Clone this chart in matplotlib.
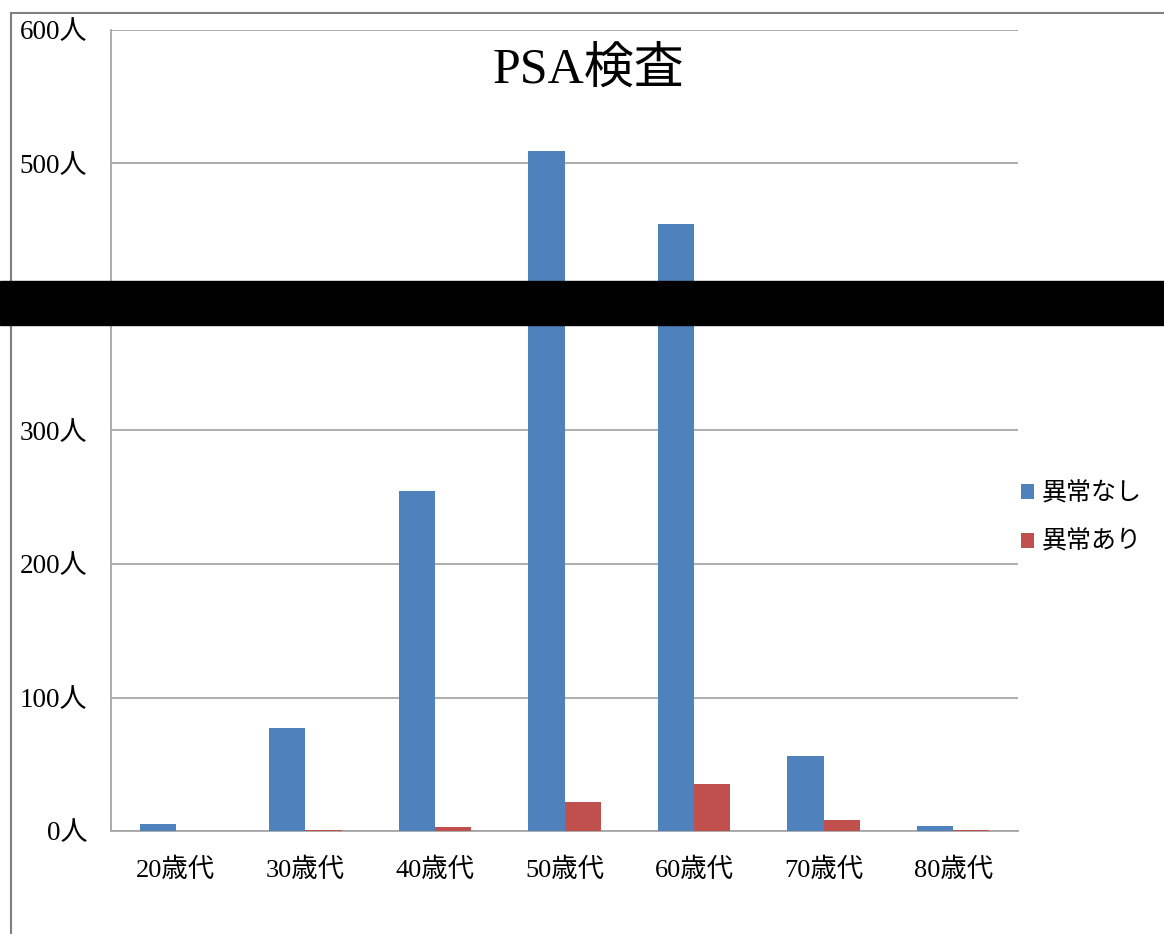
import matplotlib
matplotlib.use("Agg")
import matplotlib.pyplot as plt
import numpy as np
from matplotlib.patches import Rectangle
from matplotlib.lines import Line2D

plt.rcParams['font.family'] = ['Liberation Serif', 'Noto Sans CJK JP', 'DejaVu Sans']

categories = ["20歳代", "30歳代", "40歳代", "50歳代", "60歳代", "70歳代", "80歳代"]
normal = [5, 77, 255, 509, 455, 56, 4]
abnormal = [0, 1, 3, 22, 35, 8, 1]
series_names = ["異常なし", "異常あり"]
yticks = [0, 100, 200, 300, 400, 500, 600]
ytick_labels = [f"{v}人" for v in yticks]
title = "PSA検査"

W, H = 1164, 934
fig = plt.figure(figsize=(W / 100, H / 100), dpi=100)
ax = fig.add_axes([111 / W, 1 - 831 / H, (1018 - 111) / W, (831 - 30) / H])

x = np.arange(len(categories))
bw = 0.28
b1 = ax.bar(x - bw / 2, normal, bw, color="#4F81BD", label=series_names[0], zorder=3)
b2 = ax.bar(x + bw / 2, abnormal, bw, color="#C0504D", label=series_names[1], zorder=3)

ax.set_xlim(-0.5, len(categories) - 0.5)
ax.set_ylim(0, 600)
ax.set_yticks(yticks)
ax.set_yticklabels(ytick_labels, fontsize=19.5)
for lbl in ax.get_yticklabels():
    lbl.set_verticalalignment('center_baseline')
ax.set_xticks(x)
ax.set_xticklabels(categories, fontsize=19)
ax.tick_params(axis='y', length=0, pad=17)
ax.tick_params(axis='x', length=0, pad=19)
ax.grid(axis='y', color="#A6A6A6", linewidth=1.3, zorder=0)
for s in ["top", "right"]:
    ax.spines[s].set_visible(False)
ax.spines["left"].set_color("#A6A6A6")
ax.spines["bottom"].set_color("#A6A6A6")
ax.spines["left"].set_linewidth(1.3)
ax.spines["bottom"].set_linewidth(1.3)

fig.text(588 / W, 1 - 70 / H, title, fontsize=36, ha='center', va='center')

leg = fig.legend(handles=[b1, b2], loc='center left', bbox_to_anchor=(998 / W, 1 - 518 / H),
                 frameon=False, fontsize=18, handlelength=0.55, handleheight=0.55,
                 handletextpad=0.3, labelspacing=1.0)

# outer border lines
fig.add_artist(Line2D([11 / W, 11 / W], [0, 1 - 13 / H], color="#808080", linewidth=1.5))
fig.add_artist(Line2D([11 / W, 1], [1 - 13 / H, 1 - 13 / H], color="#808080", linewidth=1.5))

# redaction bar
fig.add_artist(Rectangle((0, 1 - 325 / H), 1, 44 / H, transform=fig.transFigure,
                         color="black", zorder=10))

fig.savefig("out.png", dpi=100)
